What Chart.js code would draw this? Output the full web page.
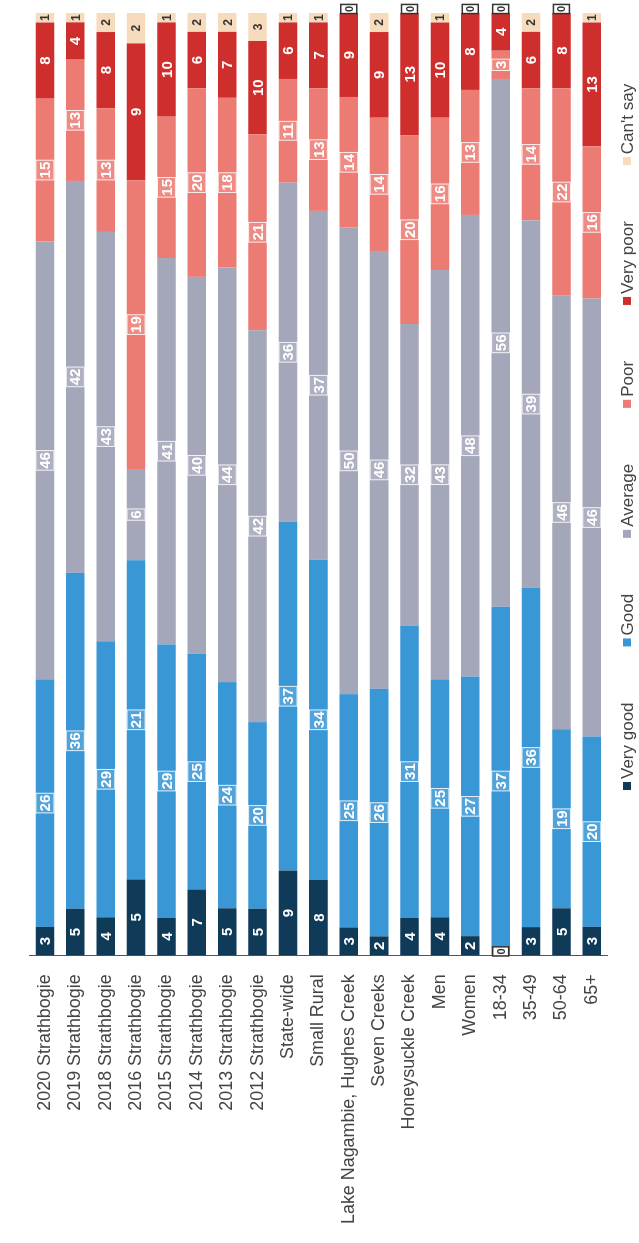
<!DOCTYPE html>
<html>
<head>
<meta charset="utf-8">
<script src="https://cdn.jsdelivr.net/npm/chart.js@4.4.1/dist/chart.umd.min.js"></script>
<style>
  html, body { margin: 0; padding: 0; background: #fff; overflow: hidden; }
  /* the chart is laid out sideways and turned a quarter turn to stand upright */
  #wrap {
    position: absolute; left: 0; top: 0;
    width: 1243px; height: 639px;
    transform-origin: 0 0;
    transform: translate(0, 1243px) rotate(-90deg);
  }
</style>
</head>
<body>
<div id="wrap"><canvas id="ratingChart" width="1243" height="639"></canvas></div>
<script>
var categories = ['2020 Strathbogie', '2019 Strathbogie', '2018 Strathbogie', '2016 Strathbogie',
  '2015 Strathbogie', '2014 Strathbogie', '2013 Strathbogie', '2012 Strathbogie', 'State-wide',
  'Small Rural', 'Lake Nagambie, Hughes Creek', 'Seven Creeks', 'Honeysuckle Creek', 'Men', 'Women',
  '18-34', '35-49', '50-64', '65+'];

var veryGood = [3, 5, 4, 5, 4, 7, 5, 5, 9, 8, 3, 2, 4, 4, 2, 0, 3, 5, 3];
var good     = [26, 36, 29, 21, 29, 25, 24, 20, 37, 34, 25, 26, 31, 25, 27, 37, 36, 19, 20];
var average  = [46, 42, 43, 6, 41, 40, 44, 42, 36, 37, 50, 46, 32, 43, 48, 56, 39, 46, 46];
var poor     = [15, 13, 13, 19, 15, 20, 18, 21, 11, 13, 14, 14, 20, 16, 13, 3, 14, 22, 16];
var veryPoor = [8, 4, 8, 9, 10, 6, 7, 10, 6, 7, 9, 9, 13, 10, 8, 4, 6, 8, 13];
var cantSay  = [1, 1, 2, 2, 1, 2, 2, 3, 1, 1, 0, 2, 0, 1, 0, 0, 2, 0, 1];

var seriesNames = ['Very good', 'Good', 'Average', 'Poor', 'Very poor', "Can't say"];
var seriesColors = ['#0f3a58', '#3a97d5', '#a4a6ba', '#ec7b74', '#cf2f2c', '#f6dcbd'];

var FONT = 'Arial, "Liberation Sans", sans-serif';
Chart.defaults.font.family = FONT;

// each bar is stacked to 100%, so every row is scaled by its own total
var rawSeries = [veryGood, good, average, poor, veryPoor, cantSay];
var rowTotals = categories.map(function(c, i){
  var t = 0;
  rawSeries.forEach(function(s){ t += s[i]; });
  return t;
});

var datasets = rawSeries.map(function(s, k){
  return {
    label: seriesNames[k],
    raw: s,
    data: s.map(function(v, i){ return v / rowTotals[i] * 100; }),
    backgroundColor: seriesColors[k],
    borderWidth: 0,
    barPercentage: 0.61,
    categoryPercentage: 1
  };
});

// numbers printed in the middle of each segment
var valueLabels = {
  id: 'valueLabels',
  afterDatasetsDraw: function(chart){
    var ctx = chart.ctx;
    ctx.save();
    ctx.textAlign = 'center';
    ctx.textBaseline = 'middle';
    chart.data.datasets.forEach(function(ds, k){
      var meta = chart.getDatasetMeta(k);
      meta.data.forEach(function(bar, i){
        var v = ds.raw[i];
        var cx = (bar.x + bar.base) / 2;
        var cy = bar.y;
        var txt = String(v);
        if (v === 0) {
          ctx.font = 'bold 11px ' + FONT;
          var zw = ctx.measureText(txt).width + 3;
          cx += 4;
          ctx.fillStyle = '#fff';
          ctx.fillRect(cx - zw / 2, cy - 8, zw, 16);
          ctx.strokeStyle = '#333';
          ctx.lineWidth = 1.5;
          ctx.strokeRect(cx - zw / 2, cy - 8, zw, 16);
          ctx.fillStyle = '#333';
          ctx.fillText(txt, cx, cy + 1);
          return;
        }
        if (k === 5) {
          ctx.font = 'bold 12px ' + FONT;
          ctx.fillStyle = '#333';
          ctx.fillText(txt, cx, cy + 1);
          return;
        }
        ctx.font = 'bold 15px ' + FONT;
        if (k >= 1 && k <= 3) {
          var w = ctx.measureText(txt).width + 3;
          ctx.fillStyle = 'rgba(255,255,255,0.12)';
          ctx.fillRect(cx - w / 2, cy - 9, w, 18);
          ctx.strokeStyle = 'rgba(255,255,255,0.85)';
          ctx.lineWidth = 1;
          ctx.strokeRect(cx - w / 2, cy - 9, w, 18);
        }
        ctx.fillStyle = '#fff';
        ctx.fillText(txt, cx, cy + 1);
      });
    });
    ctx.restore();
  }
};

// legend row under the bars
var legendRow = {
  id: 'legendRow',
  afterDraw: function(chart){
    var ctx = chart.ctx;
    ctx.save();
    ctx.font = '17px ' + FONT;
    ctx.textBaseline = 'middle';
    ctx.textAlign = 'left';
    var x = 453, y = 628, box = 8, gap = 56;
    chart.data.datasets.forEach(function(ds){
      ctx.fillStyle = ds.backgroundColor;
      ctx.fillRect(x, y - box / 2 - 1, box, box);
      ctx.fillStyle = '#444';
      ctx.fillText(ds.label, x + box + 3, y);
      x += box + 3 + ctx.measureText(ds.label).width + gap;
    });
    ctx.restore();
  }
};

new Chart(document.getElementById('ratingChart'), {
  type: 'bar',
  data: { labels: categories, datasets: datasets },
  options: {
    indexAxis: 'y',
    responsive: false,
    animation: false,
    layout: { padding: { top: 11, bottom: 32, left: 0, right: 13 } },
    plugins: {
      legend: { display: false },
      tooltip: { enabled: false }
    },
    scales: {
      x: { stacked: true, min: 0, max: 100, display: false },
      y: {
        stacked: true,
        grid: { display: false, drawTicks: false },
        border: { display: true, color: '#555', width: 1 },
        ticks: {
          autoSkip: false,
          padding: 19,
          color: '#444',
          font: { size: 17.9 }
        }
      }
    }
  },
  plugins: [valueLabels, legendRow]
});
</script>
</body>
</html>
